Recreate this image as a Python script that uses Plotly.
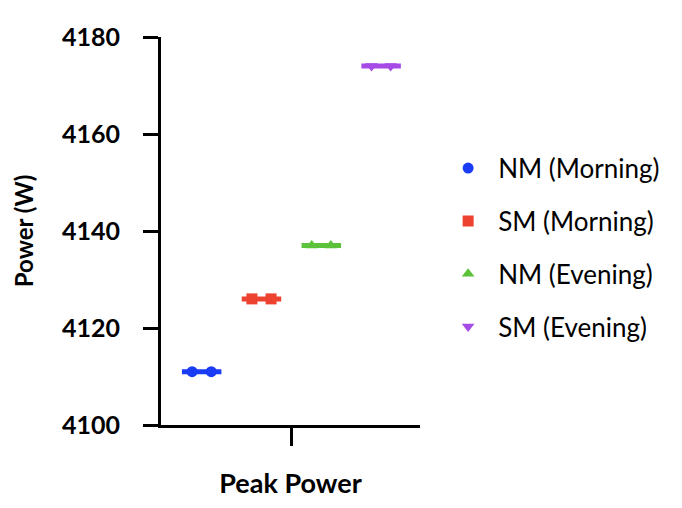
import plotly.graph_objects as go

groups = ["NM (Morning)", "SM (Morning)", "NM (Evening)", "SM (Evening)"]
values = [
    [4111, 4111],
    [4126, 4126],
    [4137, 4137],
    [4174, 4174],
]
colors = ["#1A3CF5", "#EE4231", "#5CC23A", "#A64BE6"]
symbols = ["circle", "square", "triangle-up", "triangle-down"]
category = "Peak Power"
y_ticks = [4100, 4120, 4140, 4160, 4180]

fig = go.Figure()
n = len(groups)
for i, (name, vals, col, sym) in enumerate(zip(groups, values, colors, symbols)):
    center = i - (n - 1) / 2
    k = len(vals)
    xs = [center + (j - (k - 1) / 2) * 0.32 for j in range(k)]
    mean = sum(vals) / k
    fig.add_trace(go.Scatter(
        x=[center - 0.33, center + 0.33], y=[mean, mean], mode="lines",
        line=dict(color=col, width=5), showlegend=False, hoverinfo="skip",
        legendgroup=name))
    fig.add_trace(go.Scatter(
        x=xs, y=vals, mode="markers", name=name, legendgroup=name,
        marker=dict(color=col, symbol=sym, size=11, line=dict(width=0))))

fig.update_layout(
    width=682, height=508,
    margin=dict(l=153, r=270, t=29, b=91),
    plot_bgcolor="white", paper_bgcolor="white",
    font=dict(family="Lato", color="black"),
    legend=dict(x=1.07, y=0.457, xanchor="left", yanchor="middle",
                font=dict(size=26, color="black"), tracegroupgap=16,
                itemwidth=50),
    xaxis=dict(range=[-2.18, 2.15], tickmode="array", tickvals=[0], ticktext=[""],
               showline=True, linecolor="black", linewidth=3,
               ticks="outside", ticklen=18, tickwidth=3, tickcolor="black",
               showgrid=False, zeroline=False,
               title=dict(text="<b>" + category + "</b>", font=dict(size=27), standoff=27)),
    yaxis=dict(range=[4100, 4180], tickvals=y_ticks,
               ticktext=["<b>%d</b>" % v for v in y_ticks],
               showline=True, linecolor="black", linewidth=3,
               ticks="outside", ticklen=15, tickwidth=3, tickcolor="black",
               ticklabelstandoff=18,
               tickfont=dict(size=25), showgrid=False, zeroline=False,
               title=dict(text="<b>Power (W)</b>", font=dict(size=24), standoff=22)),
)

fig.write_html("out.html")
